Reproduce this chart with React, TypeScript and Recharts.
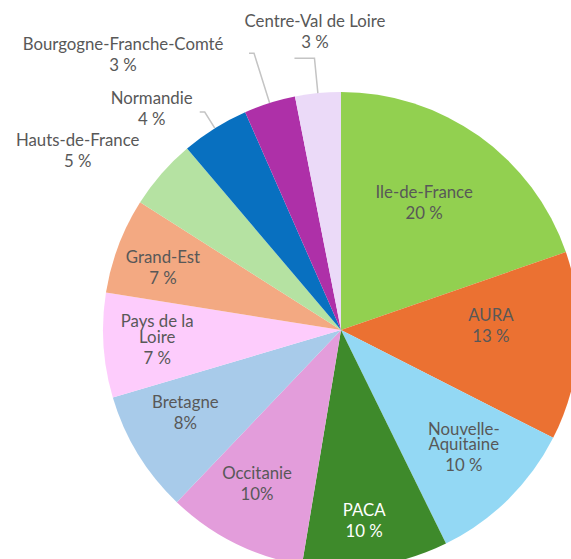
import React from 'react';
import { PieChart, Pie, Cell } from 'recharts';

const regions = [
  'Ile-de-France', 'AURA', 'Nouvelle-Aquitaine', 'PACA', 'Occitanie', 'Bretagne',
  'Pays de la Loire', 'Grand-Est', 'Hauts-de-France', 'Normandie',
  'Bourgogne-Franche-Comté', 'Centre-Val de Loire',
];
const shares = [19.7, 12.8, 10.25, 9.9, 9.5, 8.3, 7.1, 6.5, 4.8, 4.6, 3.5, 3.1];
const percentLabels = ['20 %', '13 %', '10 %', '10 %', '10%', '8%', '7 %', '7 %', '5 %', '4 %', '3 %', '3 %'];
const nameLines = [
  ['Ile-de-France'], ['AURA'], ['Nouvelle-', 'Aquitaine'], ['PACA'], ['Occitanie'], ['Bretagne'],
  ['Pays de la', 'Loire'], ['Grand-Est'], ['Hauts-de-France'], ['Normandie'],
  ['Bourgogne-Franche-Comté'], ['Centre-Val de Loire'],
];

const colors = [
  '#92d050', '#eb7132', '#93d8f4', '#3e8a2b', '#e39ddb', '#a8cbea',
  '#fdccfc', '#f3a982', '#b5e2a2', '#0870c0', '#ae30a8', '#ebdaf8',
];
const textColors = ['#585858', '#585858', '#585858', '#ffffff', '#585858', '#585858',
  '#585858', '#585858', '#585858', '#585858', '#585858', '#585858'];
// label placement: angle offset from slice middle (deg), radius (px)
const labelAngleOffset = [2.5, 5.9, 2.0, -1.4, -2.3, -3.6, -1.0, 1.1, 6.7, 8.4, 20.8, -0.6];
const labelRadius = [153, 150, 169, 191, 174, 176, 184, 189, 319, 292, 352, 300];
// leader lines: outer radius end (0 = none), horizontal tail length
const leaderRadius = [0, 0, 0, 0, 0, 0, 0, 0, 0, 257, 290, 273];
const leaderTail = [0, 0, 0, 0, 0, 0, 0, 0, 0, 5, 5, 20];

const data = regions.map((name, i) => ({ name, value: shares[i] }));

const RAD = Math.PI / 180;
const FS = 16.8;

const renderLabel = (props: any) => {
  const { cx, cy, midAngle, outerRadius, index } = props;
  const a = midAngle + labelAngleOffset[index];
  const x = cx + labelRadius[index] * Math.cos(a * RAD);
  const y = cy - labelRadius[index] * Math.sin(a * RAD);
  const lines = nameLines[index];
  const lineGap = 15.5;
  const pctGap = 21.5;
  const total = (lines.length - 1) * lineGap + pctGap;
  const top = y - total / 2;
  const elems: any[] = [];
  const lr = leaderRadius[index];
  if (lr > 0) {
    const x1 = cx + outerRadius * Math.cos(midAngle * RAD);
    const y1 = cy - outerRadius * Math.sin(midAngle * RAD);
    const x2 = cx + lr * Math.cos(midAngle * RAD);
    const y2 = cy - lr * Math.sin(midAngle * RAD);
    elems.push(
      <polyline key="l" points={`${x1},${y1} ${x2},${y2} ${x2 - leaderTail[index]},${y2}`}
        fill="none" stroke="#c4c4c4" strokeWidth={1.5} />
    );
  }
  elems.push(
    <text key="n" textAnchor="middle" dominantBaseline="central"
      fill={textColors[index]} fontSize={FS} fontFamily="Lato">
      {lines.map((t, k) => (
        <tspan key={k} x={x} y={top + k * lineGap}>{t}</tspan>
      ))}
    </text>
  );
  elems.push(
    <text key="p" x={x} y={top + total} textAnchor="middle" dominantBaseline="central"
      fill={textColors[index]} fontSize={FS} fontFamily="Lato">{percentLabels[index]}</text>
  );
  return <g>{elems}</g>;
};

export default function App() {
  return (
    <div style={{ position: 'absolute', left: 0, top: 0, width: 571, height: 559, background: '#fff' }}>
      <PieChart width={571} height={559} margin={{ top: 0, right: 0, bottom: 0, left: 0 }}>
        <Pie
          data={data}
          dataKey="value"
          nameKey="name"
          cx={341}
          cy={330}
          outerRadius={238}
          startAngle={90}
          endAngle={-270}
          stroke="none"
          label={renderLabel}
          labelLine={false}
          isAnimationActive={false}
        >
          {data.map((d, i) => (
            <Cell key={d.name} fill={colors[i]} />
          ))}
        </Pie>
      </PieChart>
    </div>
  );
}
